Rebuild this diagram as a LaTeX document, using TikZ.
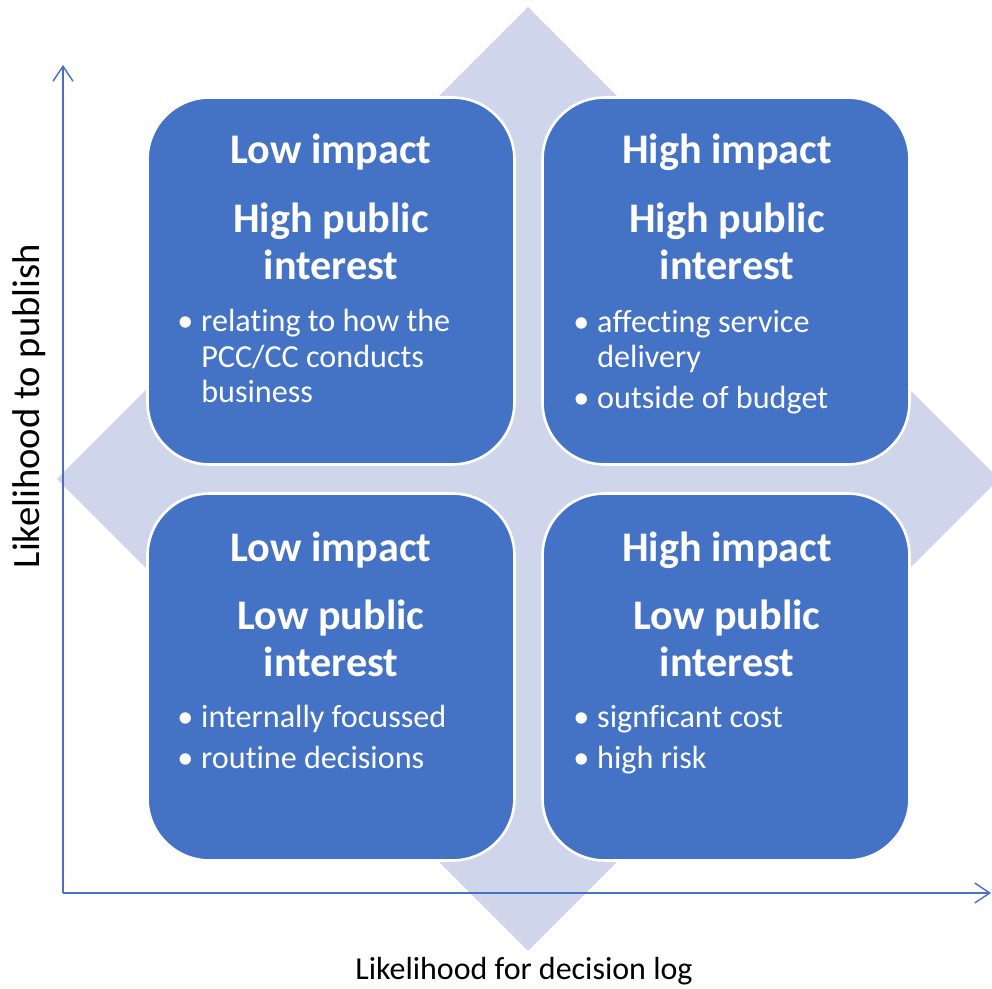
\documentclass[tikz,border=0pt]{standalone}
\usepackage{fontspec}
\setmainfont{Carlito}[Ligatures=NoCommon]
\usetikzlibrary{arrows.meta}
\definecolor{boxblue}{HTML}{4472C4}
\definecolor{axisblue}{HTML}{4472C4}
\definecolor{diamondfill}{HTML}{CFD5EA}
\tikzset{
  quad/.style={draw=white,line width=1.5pt,fill=boxblue,rounded corners=1.24cm,
    minimum width=7.34cm,minimum height=7.34cm,inner sep=0pt},
  head/.style={text=white,inner sep=0pt,align=center,
    font=\fontsize{24}{26.7}\selectfont\bfseries},
  points/.style={text=white,inner sep=0pt,anchor=west,
    font=\fontsize{18.3}{20.1}\selectfont},
  axis/.style={axisblue,line width=0.8pt,-{Straight Barb[length=0.3cm,width=0.4cm]}},
  axislabel/.style={inner sep=0pt,text=black}
}
\begin{document}
\begin{tikzpicture}[x=0.02cm,y=-0.02cm]
\useasboundingbox (0,0) rectangle (992,989);
% background diamond
\fill [diamondfill] (528,7) -- (999,479) -- (528,951) -- (57,479) -- cycle;

% axes
\coordinate (origin) at (63,893);
\coordinate (ytop) at (63,65);
\coordinate (xend) at (991,893);
\draw [axis] (origin) -- (ytop);
\draw [axis] (origin) -- (xend);
\node (xlabel) at (524,971) [axislabel,font=\fontsize{18.2}{20}\selectfont] {Likelihood for decision log};
\node (ylabel) at (29,406) [axislabel,rotate=90,font=\fontsize{22}{24}\selectfont] {Likelihood to publish};

% the four quadrants
\node (tl) at (331,281) [quad] {};
\node (tr) at (726,281) [quad] {};
\node (bl) at (331,677) [quad] {};
\node (br) at (726,677) [quad] {};

\node (tlhead) at (331,152) [head] {Low impact};
\node (tlsub) at (331,241) [head] {High public\\interest};
\node (tllist) at (177,360) [points] {\begin{tabular}{@{}l@{\hspace{4.5pt}}l@{}}
\textbullet & relating to how the\\ & PCC/CC conducts\\ & business\end{tabular}};

\node (trhead) at (727,152) [head] {High impact};
\node (trsub) at (727,241) [head] {High public\\interest};
\node (trlist) at (573,363) [points] {\begin{tabular}{@{}l@{\hspace{4.5pt}}l@{}}
\textbullet & affecting service\\ & delivery\\[3pt]
\textbullet & outside of budget\end{tabular}};

\node (blhead) at (331,550) [head] {Low impact};
\node (blsub) at (331,638) [head] {Low public\\interest};
\node (bllist) at (177,741) [points] {\begin{tabular}{@{}l@{\hspace{4.5pt}}l@{}}
\textbullet & internally focussed\\[3pt]
\textbullet & routine decisions\end{tabular}};

\node (brhead) at (727,550) [head] {High impact};
\node (brsub) at (727,638) [head] {Low public\\interest};
\node (brlist) at (573,741) [points] {\begin{tabular}{@{}l@{\hspace{4.5pt}}l@{}}
\textbullet & signficant cost\\[3pt]
\textbullet & high risk\end{tabular}};
\end{tikzpicture}
\end{document}
